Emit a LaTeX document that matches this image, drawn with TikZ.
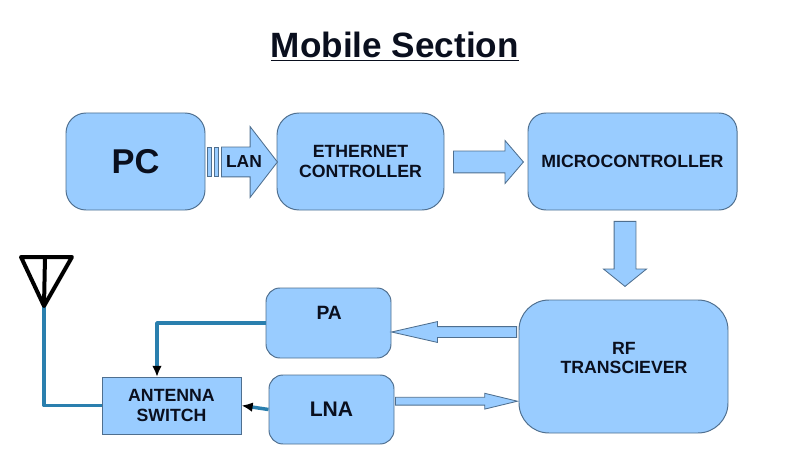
\documentclass[tikz,border=0pt]{standalone}
\usepackage{fontspec}
\setmainfont{Liberation Sans}
\usetikzlibrary{shapes.arrows,arrows.meta}
\definecolor{boxfill}{HTML}{99CCFF}
\definecolor{boxline}{HTML}{4F6F8F}
\definecolor{feedline}{HTML}{2A7FAE}
\definecolor{inktext}{HTML}{0A0F1E}
\tikzset{
    blockbox/.style={draw=boxline,fill=boxfill,line width=0.7pt,text=inktext,align=center,font=\bfseries\fontsize{12.6}{13.6}\selectfont,inner sep=0pt},
    blockarrow/.style={single arrow,draw=boxline,fill=boxfill,line width=0.6pt,inner xsep=0pt,text height=0pt,text depth=0pt,single arrow head indent=0pt,minimum width=0pt,anchor=tail},
    feed/.style={draw=feedline,line width=0.0875cm,line join=round},
    boxlabel/.style={text=inktext,align=center,font=\bfseries\fontsize{12.6}{13.6}\selectfont,inner sep=0pt}
}
\begin{document}
\begin{tikzpicture}
        \useasboundingbox (0,0) rectangle (20,11.25);
        \node[text=inktext,font=\bfseries\fontsize{25}{30}\selectfont,inner sep=0pt] (title) at (9.87,10.09) {\underline{Mobile Section}};

        \node[blockbox,rounded corners=0.5cm,minimum width=3.475cm,minimum height=2.425cm,font=\bfseries\fontsize{24.5}{28}\selectfont] (pc) at (3.3875,7.2125) {PC};
        \node[blockbox,rounded corners=0.55cm,minimum width=4.175cm,minimum height=2.425cm] (ethernet) at (9.0125,7.2125) {ETHERNET\\CONTROLLER};
        \node[blockbox,rounded corners=0.45cm,minimum width=5.225cm,minimum height=2.425cm] (micro) at (15.8125,7.2125) {MICROCONTROLLER};
        \node[blockbox,rounded corners=0.75cm,minimum width=5.225cm,minimum height=3.325cm] (rf) at (15.5875,2.0875) {};
        \node[boxlabel] (rflabel) at (15.6,2.31) {RF\\TRANSCIEVER};
        \node[blockbox,rounded corners=0.35cm,minimum width=3.125cm,minimum height=1.75cm] (pa) at (8.2125,3.175) {};
        \node[boxlabel,font=\bfseries\fontsize{13.7}{15}\selectfont] (palabel) at (8.23,3.425) {PA};
        \node[blockbox,rounded corners=0.35cm,minimum width=3.125cm,minimum height=1.725cm,font=\bfseries\fontsize{15}{17}\selectfont] (lna) at (8.2875,1.0125) {LNA};
        \node[blockbox,minimum width=3.475cm,minimum height=1.425cm] (switch) at (4.2875,1.1125) {ANTENNA\\SWITCH};

        \foreach \x/\n in {5.2425/a,5.4/b} {
                \node[draw=boxline,fill=boxfill,line width=0.6pt,inner sep=0pt,minimum width=0.1cm,minimum height=0.725cm] (lanstripe\n) at (\x,7.2) {};
            }
        \node[blockarrow,minimum height=1.4cm,single arrow head extend=0.5125cm,single arrow tip angle=104.7,inner ysep=0.3625cm] (lanarrow) at (5.525,7.2) {};
        \node[boxlabel,font=\bfseries\fontsize{12.4}{14}\selectfont] (lanlabel) at (6.1,7.2) {LAN};
        \node[blockarrow,minimum height=1.75cm,single arrow head extend=0.2625cm,single arrow tip angle=98.8,inner ysep=0.2625cm] (etharrow) at (11.325,7.2) {};
        \node[blockarrow,shape border rotate=270,minimum height=1.625cm,single arrow head extend=0.2625cm,single arrow tip angle=102,inner xsep=0.2625cm,inner ysep=0pt] (microarrow) at (15.625,5.725) {};
        \node[blockarrow,shape border rotate=180,minimum height=3.125cm,single arrow head extend=0.125cm,single arrow tip angle=25.6,inner ysep=0.125cm] (paarrow) at (12.925,2.95) {};
        \node[blockarrow,minimum height=3.05cm,single arrow head extend=0.1cm,single arrow tip angle=27.2,inner ysep=0.0875cm] (lnaarrow) at (9.875,1.22) {};

        \coordinate (anttop) at (1.125,4.825);
        \coordinate (antleft) at (0.525,4.825);
        \coordinate (antright) at (1.8,4.825);
        \coordinate (antapex) at (1.1,3.6);
        \coordinate (swdrop) at (3.925,1.825);
        \draw[feed] (antapex) |- (switch.west);
        \draw[feed,-{Latex[color=black,length=0.28cm,width=0.24cm]}] (pa.west) -| (swdrop);
        \draw[feed,-{Latex[color=black,length=0.28cm,width=0.24cm]}] (lna.west) -- (switch.east);
        \draw[black,line width=0.1cm,line join=round] (antleft) -- (antright) -- (antapex) -- cycle;
        \draw[black,line width=0.1cm] (anttop) -- (antapex);
    \end{tikzpicture}
\end{document}
